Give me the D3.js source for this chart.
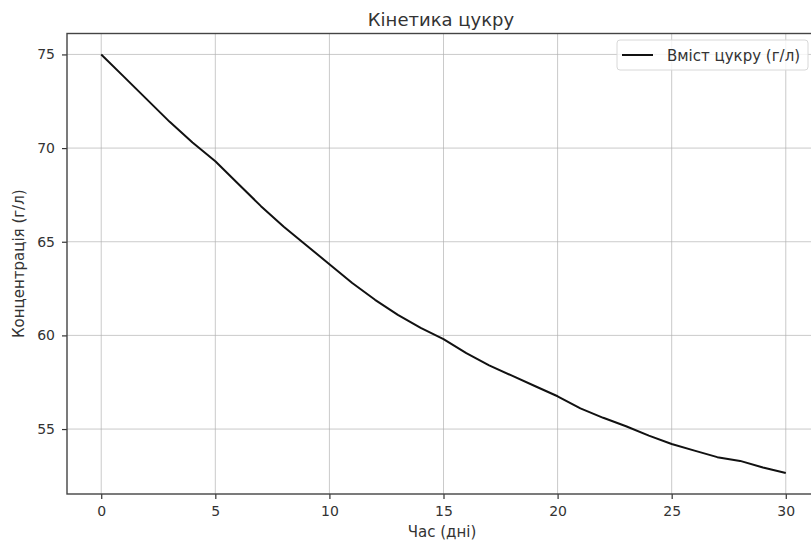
<!DOCTYPE html>
<html><head><meta charset="utf-8">
<script src="https://cdn.jsdelivr.net/npm/d3@7"></script>
<style>body{margin:0;background:#fff;} svg{display:block;font-family:"DejaVu Sans",sans-serif;}</style>
</head><body>
<svg id="chart" width="811" height="544"></svg>
<script>
const days = [0,1,2,3,4,5,6,7,8,9,10,11,12,13,14,15,16,17,18,19,20,21,22,23,24,25,26,27,28,29,30];
const sugar = [75.0,73.8,72.6,71.4,70.3,69.3,68.1,66.9,65.8,64.8,63.8,62.8,61.9,61.1,60.4,59.8,59.05,58.4,57.85,57.3,56.75,56.1,55.6,55.15,54.65,54.2,53.85,53.5,53.3,52.95,52.65];
const xTicks = [0,5,10,15,20,25,30];
const yTicks = [55,60,65,70,75];
const title = "Кінетика цукру";
const xLabel = "Час (дні)";
const yLabel = "Концентрація (г/л)";
const seriesName = "Вміст цукру (г/л)";

const svg = d3.select("#chart");
const L = 67, R = 820, T = 33.5, B = 494;
const yMin = d3.min(sugar), yMax = d3.max(sugar), span = yMax - yMin;
const x = d3.scaleLinear().domain([-1.5, 31.5]).range([L, R]);
const y = d3.scaleLinear().domain([yMin - 0.05*span, yMax + 0.05*span]).range([B, T]);

const grid = svg.append("g").attr("stroke", "#b0b0b0").attr("stroke-width", 0.9).attr("stroke-opacity", 0.75);
grid.selectAll(".gx").data(xTicks).join("line").attr("x1", d=>x(d)).attr("x2", d=>x(d)).attr("y1", T).attr("y2", B);
grid.selectAll(".gy").data(yTicks).join("line").attr("y1", d=>y(d)).attr("y2", d=>y(d)).attr("x1", L).attr("x2", R);

const line = d3.line().x((d,i)=>x(days[i])).y(d=>y(d));
svg.append("path").datum(sugar).attr("d", line).attr("fill","none").attr("stroke","#111").attr("stroke-width",2).attr("stroke-linejoin","round");

const xAxis = svg.append("g").attr("transform",`translate(0,${B})`).call(d3.axisBottom(x).tickValues(xTicks).tickSize(5).tickPadding(7).tickFormat(d3.format("d")));
const yAxis = svg.append("g").attr("transform",`translate(${L},0)`).call(d3.axisLeft(y).tickValues(yTicks).tickSize(5).tickPadding(7).tickFormat(d3.format("d")));
[xAxis,yAxis].forEach(a=>{
  a.select(".domain").remove();
  a.selectAll(".tick line").attr("stroke","#333").attr("stroke-width",1.2);
  a.selectAll(".tick text").attr("fill","#333").attr("font-size",14).attr("font-family","DejaVu Sans");
});

svg.append("rect").attr("x",L).attr("y",T).attr("width",R-L).attr("height",B-T).attr("fill","none").attr("stroke","#444").attr("stroke-width",1.4);

svg.append("text").attr("x",441).attr("y",26).attr("text-anchor","middle").attr("font-size",18).attr("fill","#333").text(title);
svg.append("text").attr("x",442).attr("y",537).attr("text-anchor","middle").attr("font-size",15).attr("fill","#333").text(xLabel);
svg.append("text").attr("transform",`translate(24,${(T+B)/2}) rotate(-90)`).attr("text-anchor","middle").attr("font-size",15).attr("fill","#333").text(yLabel);

const lg = svg.append("g");
lg.append("rect").attr("x",617).attr("y",40).attr("width",191).attr("height",30).attr("rx",3).attr("fill","#fff").attr("fill-opacity",0.8).attr("stroke","#d8d8d8");
lg.append("line").attr("x1",622).attr("x2",653).attr("y1",55).attr("y2",55).attr("stroke","#111").attr("stroke-width",2);
lg.append("text").attr("x",667).attr("y",60.5).attr("font-size",15).attr("fill","#333").text(seriesName);
</script>
</body></html>
